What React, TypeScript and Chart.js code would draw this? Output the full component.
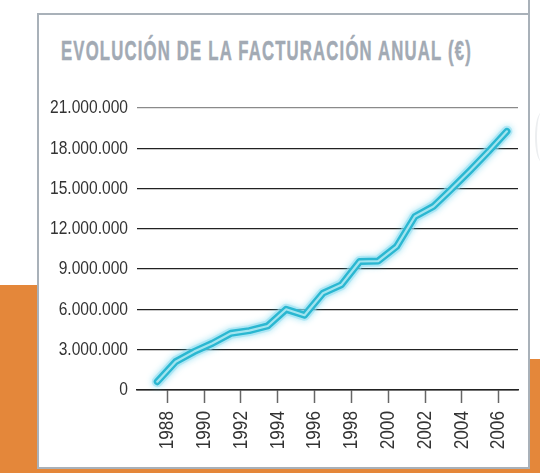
import React, { useEffect, useRef } from "react";
import { Chart, registerables } from "chart.js";

Chart.register(...registerables);

const TITLE = "EVOLUCIÓN DE LA FACTURACIÓN ANUAL (€)";
const years = [1987, 1988, 1989, 1990, 1991, 1992, 1993, 1994, 1995, 1996, 1997, 1998, 1999, 2000, 2001, 2002, 2003, 2004, 2005, 2006];
const revenue = [620000, 2110000, 2860000, 3480000, 4220000, 4420000, 4770000, 6010000, 5570000, 7210000, 7830000, 9570000, 9600000, 10680000, 12920000, 13670000, 14980000, 16350000, 17770000, 19260000];
const tickYears = [1988, 1990, 1992, 1994, 1996, 1998, 2000, 2002, 2004, 2006];
const yTicks = [0, 3000000, 6000000, 9000000, 12000000, 15000000, 18000000, 21000000];

const fmt = (v: number) => String(Math.round(v)).replace(/\B(?=(\d{3})+(?!\d))/g, ".");

const FONT = "'Liberation Sans', Arial, sans-serif";
const CONDENSE = 0.82;

export default function App() {
  const canvasRef = useRef<HTMLCanvasElement | null>(null);
  const titleRef = useRef<HTMLSpanElement | null>(null);

  useEffect(() => {
    const t = titleRef.current;
    if (t) {
      t.style.transform = "none";
      const w = t.getBoundingClientRect().width;
      if (w > 0) t.style.transform = `scaleX(${411 / w})`;
    }
    const canvas = canvasRef.current;
    if (!canvas) return;
    const pts = years.map((y, i) => ({ x: y + 0.45, y: revenue[i] }));
    const glowPlugin = {
      id: "glow",
      beforeDatasetDraw(chart: any, args: any) {
        const ctx = chart.ctx;
        ctx.save();
        if (args.index === 0) {
          ctx.shadowColor = "rgba(80,205,235,0.9)";
          ctx.shadowBlur = 6;
        }
      },
      afterDatasetDraw(chart: any) {
        chart.ctx.restore();
      },
    };
    // condensed text rendering (narrow typeface look) for the axis labels
    const narrowPlugin = {
      id: "narrowText",
      beforeDraw(chart: any) {
        const ctx = chart.ctx;
        const orig = CanvasRenderingContext2D.prototype.fillText;
        ctx.fillText = function (text: string, x: number, y: number, maxW?: number) {
          ctx.save();
          ctx.translate(x, y);
          ctx.scale(CONDENSE, 1);
          if (maxW === undefined) orig.call(ctx, text, 0, 0);
          else orig.call(ctx, text, 0, 0, maxW / CONDENSE);
          ctx.restore();
        };
      },
      afterDraw(chart: any) {
        delete chart.ctx.fillText;
      },
    };
    const chart = new Chart(canvas, {
      type: "line",
      data: {
        datasets: [
          { data: pts, borderColor: "rgba(150,222,240,0.55)", borderWidth: 11, pointRadius: 0, borderCapStyle: "round", borderJoinStyle: "round", tension: 0, clip: false, order: 3 } as any,
          { data: pts, borderColor: "#2ab7d1", borderWidth: 7, pointRadius: 0, borderCapStyle: "round", borderJoinStyle: "round", tension: 0, clip: false, order: 2 } as any,
          { data: pts, borderColor: "#a2e4ef", borderWidth: 2.2, pointRadius: 0, borderCapStyle: "round", borderJoinStyle: "round", tension: 0, clip: false, order: 1 } as any,
        ],
      },
      options: {
        responsive: false,
        animation: false,
        layout: { padding: { top: 108, right: 22, left: 0, bottom: 0 } },
        plugins: { legend: { display: false }, tooltip: { enabled: false }, title: { display: false } },
        scales: {
          x: {
            type: "linear",
            min: 1986.35,
            max: 2007.05,
            afterBuildTicks: (axis: any) => {
              axis.ticks = tickYears.map((value) => ({ value }));
            },
            afterFit: (scale: any) => {
              scale.height = 83;
            },
            ticks: {
              autoSkip: false,
              minRotation: 90,
              maxRotation: 90,
              padding: 8,
              color: "#333",
              font: { family: FONT, size: 21 },
              callback: (v: any) => String(v),
            },
            grid: { display: true, drawOnChartArea: false, drawTicks: true, tickLength: 13, tickColor: "#666", tickWidth: 1.5 },
            border: { display: true, color: "#222", width: 1.5 },
          },
          y: {
            min: 0,
            max: 21000000,
            afterBuildTicks: (axis: any) => {
              axis.ticks = yTicks.map((value) => ({ value }));
            },
            afterFit: (scale: any) => {
              scale.width = 137;
            },
            ticks: {
              padding: 9,
              color: "#333",
              font: { family: FONT, size: 19 },
              callback: (v: any) => fmt(Number(v)),
            },
            grid: {
              drawTicks: false,
              color: (c: any) => (c.tick && c.tick.value === 21000000 ? "#8a8a8a" : "#222"),
              lineWidth: 1.3,
            },
            border: { display: false },
          },
        },
      } as any,
      plugins: [glowPlugin, narrowPlugin],
    });
    return () => chart.destroy();
  }, []);

  const abs = (s: React.CSSProperties): React.CSSProperties => ({ position: "absolute", ...s });

  return (
    <div style={abs({ left: 0, top: 0, width: 540, height: 473, background: "#ffffff", overflow: "hidden" })}>
      <div style={abs({ left: 0, top: 285, width: 38, height: 188, background: "#e4873a" })} />
      <div style={abs({ left: 0, top: 468, width: 540, height: 5, background: "#e4873a" })} />
      <div style={abs({ left: 529, top: 359, width: 11, height: 114, background: "#e4873a" })} />
      <div style={abs({ left: 535, top: 112, width: 12, height: 50, borderLeft: "2px solid #eceef0", borderRadius: "50%" })} />
      <div style={abs({ left: 37, top: 13, width: 493, height: 456, border: "2.5px solid #a9b1b9", boxSizing: "border-box", background: "#ffffff" })} />
      <div style={abs({ left: 527.5, top: 0, width: 2.5, height: 14, background: "#a9b1b9" })} />
      <div style={abs({ left: 61, top: 37, height: 28, lineHeight: "28px", whiteSpace: "nowrap" })}>
        <span
          ref={titleRef}
          style={{ display: "inline-block", transformOrigin: "left top", fontFamily: FONT, fontWeight: 700, fontSize: 28, letterSpacing: "2px", color: "#a2aab4", WebkitTextStroke: "0.5px #a2aab4" } as any}
        >
          {TITLE}
        </span>
      </div>
      <canvas ref={canvasRef} width={540} height={473} style={abs({ left: 0, top: 0, width: 540, height: 473 })} />
    </div>
  );
}
